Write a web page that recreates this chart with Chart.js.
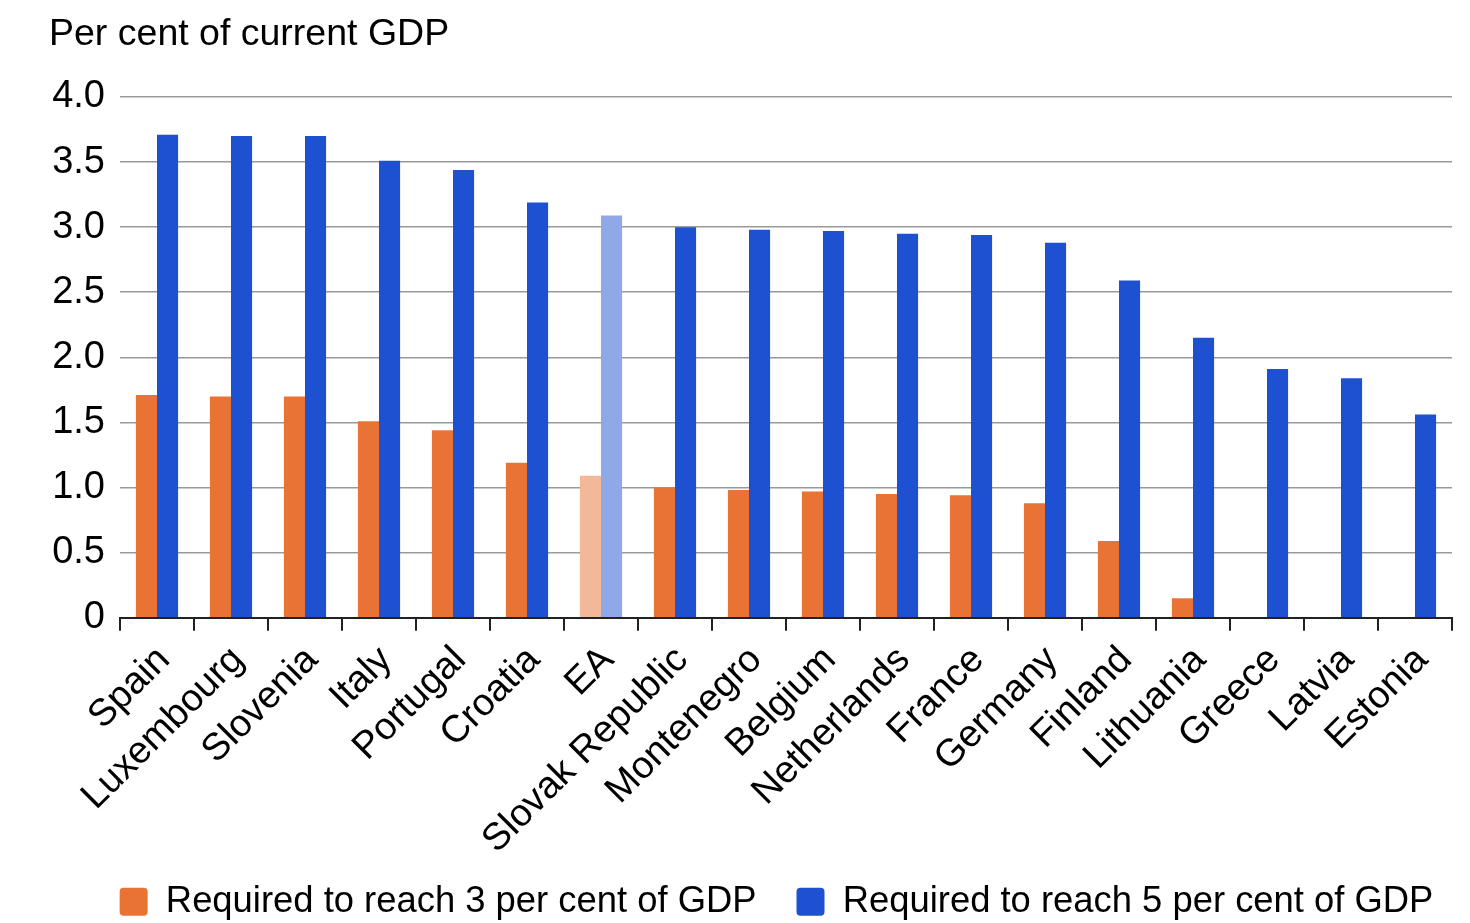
<!DOCTYPE html>
<html>
<head>
<meta charset="utf-8">
<script src="https://cdn.jsdelivr.net/npm/chart.js@4/dist/chart.umd.min.js"></script>
<style>
  html, body { margin: 0; padding: 0; background: #fff; }
  #wrap { width: 1470px; height: 923px; position: relative; }
</style>
</head>
<body>
<div id="wrap"><canvas id="gdpChart"></canvas></div>
<script>
// --- data ---
const countries = ["Spain", "Luxembourg", "Slovenia", "Italy", "Portugal", "Croatia", "EA",
  "Slovak Republic", "Montenegro", "Belgium", "Netherlands", "France", "Germany",
  "Finland", "Lithuania", "Greece", "Latvia", "Estonia"];
const reach3 = [1.71, 1.70, 1.70, 1.51, 1.44, 1.19, 1.09, 1.00, 0.98, 0.97, 0.95, 0.94, 0.88,
  0.59, 0.15, null, null, null];
const reach5 = [3.71, 3.70, 3.70, 3.51, 3.44, 3.19, 3.09, 3.00, 2.98, 2.97, 2.95, 2.94, 2.88,
  2.59, 2.15, 1.91, 1.84, 1.56];
const yTicks = [0, 0.5, 1, 1.5, 2, 2.5, 3, 3.5, 4];

// --- colours ---
const ORANGE = "#E87335", ORANGE_EA = "#F2B899";
const BLUE = "#1E50D2", BLUE_EA = "#8FA8E8";
const FONT = "'Liberation Sans', Arial, sans-serif";

// nudge the legend row so it lines up under the plot like the original
const legendNudge = {
  id: "legendNudge",
  afterLayout(chart) {
    const lg = chart.legend;
    lg.left += 26; lg.right += 26;
    lg.top -= 26; lg.bottom -= 26;
  },
};

const ctx = document.getElementById("gdpChart").getContext("2d");
new Chart(ctx, {
  type: "bar",
  data: {
    labels: countries,
    datasets: [
      {
        label: "Required to reach 3 per cent of GDP",
        data: reach3,
        backgroundColor: countries.map(c => c === "EA" ? ORANGE_EA : ORANGE),
        categoryPercentage: 0.57,
        barPercentage: 1.0,
      },
      {
        label: "Required to reach 5 per cent of GDP",
        data: reach5,
        backgroundColor: countries.map(c => c === "EA" ? BLUE_EA : BLUE),
        categoryPercentage: 0.57,
        barPercentage: 1.0,
      },
    ],
  },
  plugins: [legendNudge],
  options: {
    responsive: true,
    maintainAspectRatio: false,
    animation: false,
    layout: { padding: { left: 49, right: 18, top: 12, bottom: -33 } },
    scales: {
      y: {
        min: 0,
        max: 4,
        afterBuildTicks: axis => { axis.ticks = yTicks.map(v => ({ value: v })); },
        afterFit: s => { s.width = 71; },
        border: { display: false },
        grid: { color: "#999", lineWidth: 1.6, drawTicks: false },
        ticks: {
          padding: 15,
          color: "#000",
          font: { family: FONT, size: 38 },
          callback: v => v === 0 ? "0" : Number(v).toFixed(1),
        },
      },
      x: {
        // rotated first label may hang left of the plot, as in the original
        afterFit: s => { s.paddingLeft = 0; s.paddingRight = 0; },
        border: { display: true, color: "#222", width: 2 },
        grid: {
          offset: true,
          drawOnChartArea: false,
          drawTicks: true,
          tickLength: 13,
          color: "#222",
          lineWidth: 2,
        },
        ticks: {
          autoSkip: false,
          maxRotation: 45,
          minRotation: 45,
          padding: 7,
          labelOffset: 7,
          color: "#000",
          font: { family: FONT, size: 38 },
        },
      },
    },
    plugins: {
      title: {
        display: true,
        text: "Per cent of current GDP",
        align: "start",
        color: "#000",
        font: { family: FONT, size: 37.5, weight: "normal" },
        padding: { top: 0, bottom: 40 },
      },
      legend: {
        position: "bottom",
        labels: {
          color: "#000",
          font: { family: FONT, size: 36.4 },
          boxWidth: 28,
          boxHeight: 28,
          useBorderRadius: true,
          borderRadius: 4,
          padding: 40,
        },
      },
      tooltip: { enabled: false },
    },
  },
});
</script>
</body>
</html>
